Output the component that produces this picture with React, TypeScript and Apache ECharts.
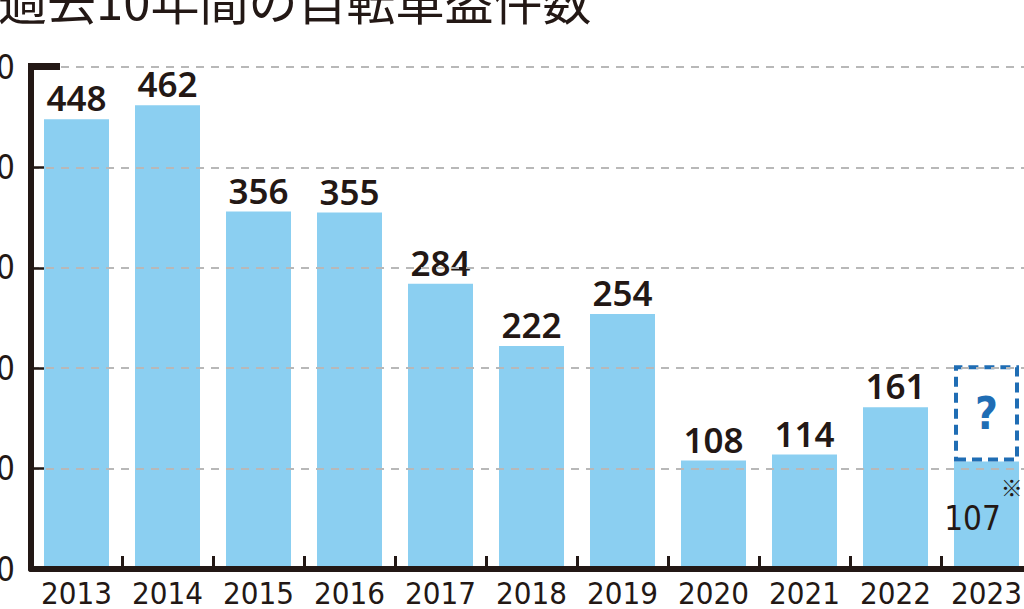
import React, { useEffect, useRef } from "react";
import * as echarts from "echarts";

const titleText = "過去10年間の自転車盗件数";
const years = ["2013", "2014", "2015", "2016", "2017", "2018", "2019", "2020", "2021", "2022", "2023"];
const counts = [448, 462, 356, 355, 284, 222, 254, 108, 114, 161, 107];
const pendingExtra = [null, null, null, null, null, null, null, null, null, null, 96];
const yMin = 0;
const yMax = 500;
const yInterval = 100;

const INK = "#231815";
const BAR = "#8bcff1";
const BLUE = "#1f6db4";
const NARROW = "'DejaVu Sans Condensed', 'Liberation Sans Narrow', sans-serif";
const NUMFONT = "'Noto Sans', 'Open Sans', sans-serif";

const GRID_LEFT = 31;
const GRID_TOP = 67;
const GRID_W = 1001;
const GRID_H = 502;

export default function App() {
  const ref = useRef<HTMLDivElement>(null);
  useEffect(() => {
    if (!ref.current) return;
    const chart = echarts.init(ref.current, null, { renderer: "svg" });
    const last = counts.length - 1;
    const mainData = counts.map((v, i) =>
      i === last
        ? {
            value: v,
            label: {
              show: true,
              position: "inside",
              offset: [-3, -10],
              fontWeight: "normal",
              formatter: "{n|" + v + "}{s|※}",
              rich: {
                n: {
                  fontFamily: NARROW,
                  fontSize: 33,
                  fontWeight: "normal",
                  color: INK,
                  lineHeight: 60,
                  verticalAlign: "bottom",
                },
                s: {
                  fontFamily: "'Noto Sans CJK JP', sans-serif",
                  fontSize: 22,
                  fontWeight: "normal",
                  color: INK,
                  lineHeight: 60,
                  verticalAlign: "top",
                },
              },
            },
          }
        : v
    );
    chart.setOption({
      animation: false,
      grid: {
        left: GRID_LEFT,
        top: GRID_TOP,
        width: GRID_W,
        height: GRID_H,
        containLabel: false,
        outerBoundsMode: "none",
      },
      xAxis: {
        type: "category",
        data: years,
        boundaryGap: true,
        axisLine: { show: true, lineStyle: { color: INK, width: 6 } },
        axisTick: { show: true, inside: true, length: 13, alignWithLabel: false, lineStyle: { color: INK, width: 3 } },
        axisLabel: { color: INK, fontFamily: NARROW, fontSize: 31, margin: 8, interval: 0, hideOverlap: false },
        z: 5,
      },
      yAxis: {
        type: "value",
        min: yMin,
        max: yMax,
        interval: yInterval,
        axisLine: { show: true, lineStyle: { color: INK, width: 6 } },
        axisTick: { show: true, inside: true, length: 13, lineStyle: { color: INK, width: 2.5 } },
        axisLabel: { color: INK, fontFamily: NARROW, fontSize: 33, margin: 16 },
        splitLine: { show: true, lineStyle: { color: "#b8b8b8", width: 2, type: [8, 7] } },
        z: 5,
      },
      series: [
        {
          type: "bar",
          stack: "total",
          barWidth: 65,
          data: mainData,
          itemStyle: { color: BAR },
          label: {
            show: true,
            position: "top",
            distance: 4,
            color: INK,
            fontFamily: NUMFONT,
            fontSize: 35,
            fontWeight: 600,
          },
        },
        {
          type: "bar",
          stack: "total",
          barWidth: 65,
          data: pendingExtra,
          itemStyle: { color: "rgba(0,0,0,0)", borderColor: BLUE, borderWidth: 4, borderType: [10, 6] },
          label: {
            show: true,
            position: "inside",
            formatter: "?",
            color: BLUE,
            fontFamily: NARROW,
            fontWeight: "bold",
            fontSize: 44,
          },
        },
      ],
      graphic: [
        {
          type: "text",
          x: -2,
          y: -2,
          style: {
            text: titleText,
            fontFamily: "'Noto Sans CJK JP', sans-serif",
            fontSize: 49,
            fontWeight: 400,
            fill: INK,
            verticalAlign: "middle",
          },
        },
        {
          type: "rect",
          shape: { x: GRID_LEFT - 3, y: GRID_TOP - 4, width: 32, height: 7 },
          style: { fill: INK },
          z: 10,
        },
      ],
    });
    return () => chart.dispose();
  }, []);
  return <div ref={ref} style={{ position: "fixed", left: 0, top: 0, width: 1024, height: 609, background: "#fff" }} />;
}
